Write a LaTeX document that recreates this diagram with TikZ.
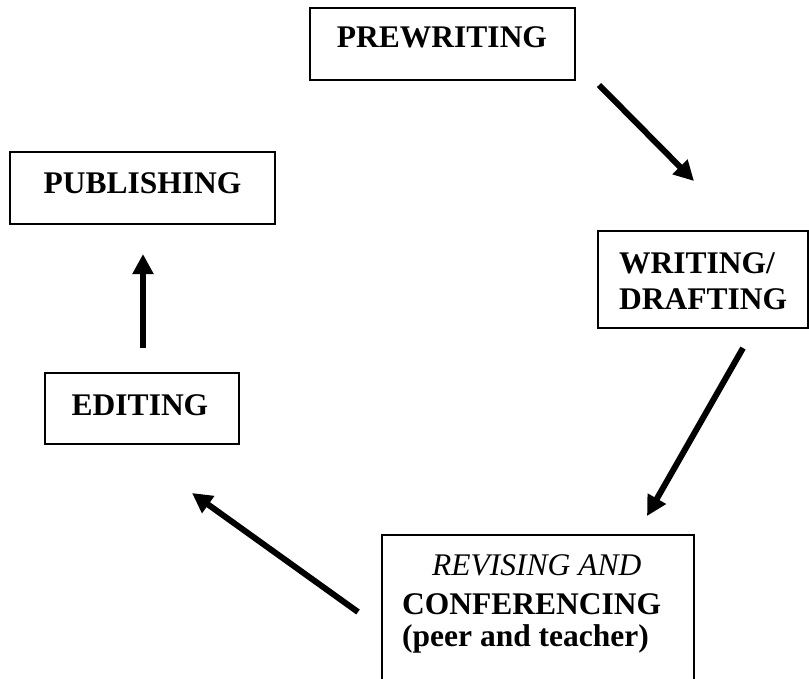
\documentclass[tikz,border=0pt]{standalone}
\usepackage{fontspec}
\setmainfont{Liberation Serif}
\usetikzlibrary{arrows.meta}
\begin{document}
\begin{tikzpicture}[x=1pt,y=-1pt,
  box/.style={draw, line width=1.6pt, inner sep=0pt, rectangle},
  lbl/.style={inner sep=0pt, font=\fontsize{31.5}{36}\selectfont\bfseries},
  ilbl/.style={inner sep=0pt, font=\fontsize{31.5}{36}\selectfont\itshape},
  flow/.style={line width=6pt, -{Triangle[length=20pt,width=20pt]}}]
\clip (0,0) rectangle (809,678);
\fill[white] (0,0) rectangle (809,678);
% boxes
\node[box, minimum width=265pt, minimum height=72pt] (pre) at (442.5,44) {};
\node[box, minimum width=265pt, minimum height=72pt] (pub) at (142.5,188) {};
\node[box, minimum width=194pt, minimum height=71pt] (edi) at (142,408.5) {};
\node[box, minimum width=210pt, minimum height=97pt] (wri) at (703,279.5) {};
\node[box, minimum width=312pt, minimum height=165pt] (rev) at (538,617.5) {};
% labels
\node[lbl, anchor=base] (pret) at (442,47) {PREWRITING};
\node[lbl, anchor=base] (pubt) at (142.5,193) {PUBLISHING};
\node[lbl, anchor=base] (edit) at (140,415) {EDITING};
\node[lbl, anchor=base west] (wrt1) at (619,273) {WRITING/};
\node[lbl, anchor=base west] (wrt2) at (619,309) {DRAFTING};
\node[ilbl, anchor=base west] (revt1) at (432,575) {REVISING AND};
\node[lbl, anchor=base west] (revt2) at (402,614) {CONFERENCING};
\node[lbl, anchor=base west] (revt3) at (402,646) {(peer and teacher)};
% arrow ends
\coordinate (a1s) at (599,85);
\coordinate (a1e) at (694,181);
\coordinate (a2s) at (743,348);
\coordinate (a2e) at (647,516);
\coordinate (a3s) at (358,612);
\coordinate (a3e) at (192,493);
\coordinate (a4s) at (143,348);
\coordinate (a4e) at (143,254);
\draw[flow] (a1s) -- (a1e);
\draw[flow] (a2s) -- (a2e);
\draw[flow] (a3s) -- (a3e);
\draw[flow] (a4s) -- (a4e);
\end{tikzpicture}
\end{document}
